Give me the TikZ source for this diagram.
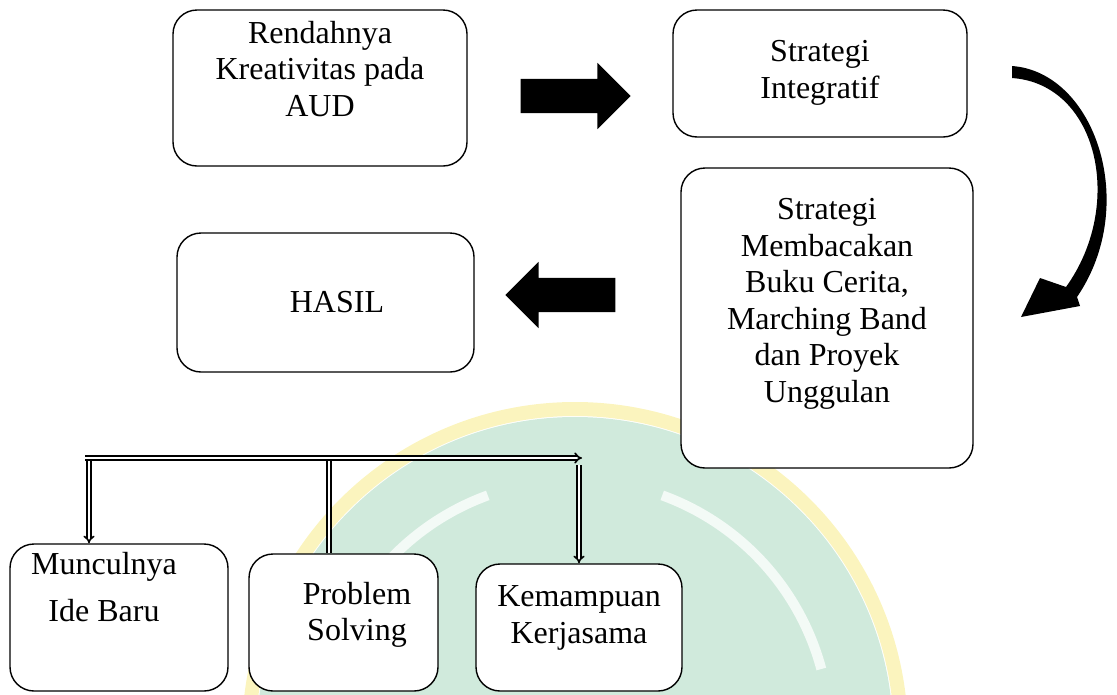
\documentclass[tikz,border=0pt]{standalone}
\usepackage{fontspec}
\setmainfont{Liberation Serif}
\usetikzlibrary{arrows.meta,shapes.arrows,positioning,calc,backgrounds}
\definecolor{LogoGreen}{HTML}{D0EADC}
\definecolor{LogoYellow}{HTML}{FBF4BE}

\begin{document}
\begin{tikzpicture}[x=1pt, y=-1pt,
    box/.style={draw, line width=1.4pt, rounded corners=24pt, fill=white, inner sep=0pt},
    txt/.style={align=center, font=\fontsize{32}{36.5}\selectfont, inner sep=0pt},
    block/.style={single arrow, fill=black, inner sep=17pt, single arrow head extend=16pt,
                  single arrow tip angle=90, minimum height=110pt},
    pipe/.style={double, double distance=2pt, line width=1.6pt},
  ]
    \useasboundingbox (0,0) rectangle (1117,694);

    % boxes
    \node[box, minimum width=294pt, minimum height=156pt] (rendah) at (320,88)    {};
    \node[box, minimum width=294pt, minimum height=127pt] (integ)  at (820,73.5)  {};
    \node[box, minimum width=292pt, minimum height=300pt] (strat)  at (827,318)   {};
    \node[box, minimum width=297pt, minimum height=139pt] (hasil)  at (325.5,302.5) {};
    \node[box, minimum width=218pt, minimum height=147pt] (muncul) at (119,617.5) {};
    \node[box, minimum width=189pt, minimum height=137pt] (problem) at (343.5,622.5) {};
    \node[box, minimum width=206pt, minimum height=127pt] (kerja)  at (579,627.5) {};

    % texts
    \node[txt] (rendah-t) at (320,69)  {Rendahnya\\Kreativitas pada\\AUD};
    \node[txt] (integ-t)  at (820,73)  {Strategi\\Integratif};
    \node[txt] (strat-t)  at (827,304) {Strategi\\Membacakan\\Buku Cerita,\\Marching Band\\dan Proyek\\Unggulan};
    \node[txt] (hasil-t)  at (337,302) {HASIL};
    \node[txt] (muncul-t) at (104,587) {Munculnya\\[11pt]Ide Baru};
    \node[txt] (problem-t) at (357,615) {Problem\\Solving};
    \node[txt] (kerja-t)  at (579,618) {Kemampuan\\Kerjasama};

    % block arrows
    \node[block] (arr1) at (567,96) {};
    \node[block, shape border rotate=180] (arr2) at (569,295) {};

    % curved arrow
    \fill (1012,66) .. controls (1095,72) and (1140,205) .. (1077,297)
          -- (1080,306) -- (1021,317) -- (1040,278) -- (1066,287)
          .. controls (1125,205) and (1098,84) .. (1012,78) -- cycle;

    % branches
    \coordinate (j1) at (89,458);
    \coordinate (j2) at (329,455);
    \coordinate (j3) at (579,465);
    \coordinate (hl) at (85,458);
    \coordinate (hr) at (582,458);
    \draw[pipe, -{Implies}] (j1) -- (j1 |- muncul.north);
    \draw[pipe] (j2) -- (j2 |- problem.north);
    \draw[pipe, -{Implies}] (j3) -- (j3 |- kerja.north);
    \draw[pipe, -{Implies}] (hl) -- (hr);

    % watermark
    \begin{scope}[on background layer]
      \clip (0,0) rectangle (1117,694);
      \fill[LogoGreen] (575,735) circle[radius=318pt];
      \draw[LogoYellow, line width=14pt] (575,735) circle[radius=326pt];
      \draw[white!75!LogoGreen, line width=10pt] (575,735) ++(165:255pt) arc[start angle=165, end angle=110, radius=255pt];
      \draw[white!75!LogoGreen, line width=10pt] (575,735) ++(70:255pt) arc[start angle=70, end angle=15, radius=255pt];
    \end{scope}
  \end{tikzpicture}
\end{document}
